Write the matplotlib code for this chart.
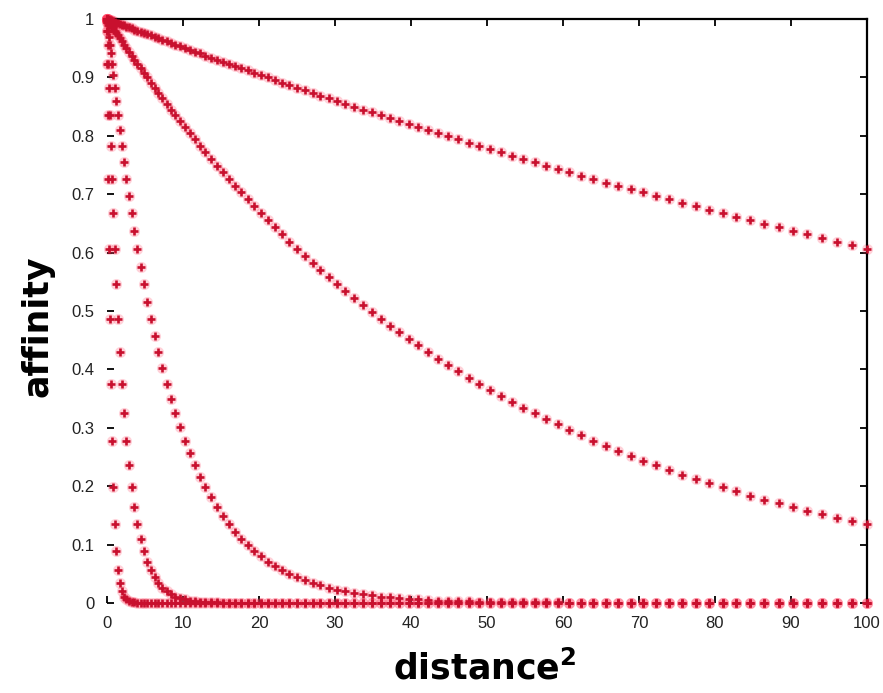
import matplotlib
matplotlib.use("Agg")
import matplotlib.pyplot as plt

# squared distances (x axis)
dist_sq = [
    0, 0.01, 0.04, 0.09, 0.16, 0.25, 0.36, 0.49, 0.64, 0.81,
    1, 1.21, 1.44, 1.69, 1.96, 2.25, 2.56, 2.89, 3.24, 3.61,
    4, 4.41, 4.84, 5.29, 5.76, 6.25, 6.76, 7.29, 7.84, 8.41,
    9, 9.61, 10.24, 10.89, 11.56, 12.25, 12.96, 13.69, 14.44, 15.21,
    16, 16.81, 17.64, 18.49, 19.36, 20.25, 21.16, 22.09, 23.04, 24.01,
    25, 26.01, 27.04, 28.09, 29.16, 30.25, 31.36, 32.49, 33.64, 34.81,
    36, 37.21, 38.44, 39.69, 40.96, 42.25, 43.56, 44.89, 46.24, 47.61,
    49, 50.41, 51.84, 53.29, 54.76, 56.25, 57.76, 59.29, 60.84, 62.41,
    64, 65.61, 67.24, 68.89, 70.56, 72.25, 73.96, 75.69, 77.44, 79.21,
    81, 82.81, 84.64, 86.49, 88.36, 90.25, 92.16, 94.09, 96.04, 98.01,
    100,
]

aff_sigma10 = [
    1.000, 1.000, 1.000, 1.000, 0.999, 0.999, 0.998, 0.998, 0.997, 0.996,
    0.995, 0.994, 0.993, 0.992, 0.990, 0.989, 0.987, 0.986, 0.984, 0.982,
    0.980, 0.978, 0.976, 0.974, 0.972, 0.969, 0.967, 0.964, 0.962, 0.959,
    0.956, 0.953, 0.950, 0.947, 0.944, 0.941, 0.937, 0.934, 0.930, 0.927,
    0.923, 0.919, 0.916, 0.912, 0.908, 0.904, 0.900, 0.895, 0.891, 0.887,
    0.882, 0.878, 0.874, 0.869, 0.864, 0.860, 0.855, 0.850, 0.845, 0.840,
    0.835, 0.830, 0.825, 0.820, 0.815, 0.810, 0.804, 0.799, 0.794, 0.788,
    0.783, 0.777, 0.772, 0.766, 0.760, 0.755, 0.749, 0.743, 0.738, 0.732,
    0.726, 0.720, 0.714, 0.709, 0.703, 0.697, 0.691, 0.685, 0.679, 0.673,
    0.667, 0.661, 0.655, 0.649, 0.643, 0.637, 0.631, 0.625, 0.619, 0.613,
    0.607,
]

aff_sigma5 = [
    1.000, 1.000, 0.999, 0.998, 0.997, 0.995, 0.993, 0.990, 0.987, 0.984,
    0.980, 0.976, 0.972, 0.967, 0.962, 0.956, 0.950, 0.944, 0.937, 0.930,
    0.923, 0.916, 0.908, 0.900, 0.891, 0.882, 0.874, 0.864, 0.855, 0.845,
    0.835, 0.825, 0.815, 0.804, 0.794, 0.783, 0.772, 0.760, 0.749, 0.738,
    0.726, 0.714, 0.703, 0.691, 0.679, 0.667, 0.655, 0.643, 0.631, 0.619,
    0.607, 0.594, 0.582, 0.570, 0.558, 0.546, 0.534, 0.522, 0.510, 0.498,
    0.487, 0.475, 0.464, 0.452, 0.441, 0.430, 0.418, 0.407, 0.397, 0.386,
    0.375, 0.365, 0.355, 0.344, 0.334, 0.325, 0.315, 0.306, 0.296, 0.287,
    0.278, 0.269, 0.261, 0.252, 0.244, 0.236, 0.228, 0.220, 0.213, 0.205,
    0.198, 0.191, 0.184, 0.177, 0.171, 0.164, 0.158, 0.152, 0.146, 0.141,
    0.135,
]

aff_sigma2 = [
    1.000, 0.999, 0.995, 0.989, 0.980, 0.969, 0.956, 0.941, 0.923, 0.904,
    0.882, 0.860, 0.835, 0.810, 0.783, 0.755, 0.726, 0.697, 0.667, 0.637,
    0.607, 0.576, 0.546, 0.516, 0.487, 0.458, 0.430, 0.402, 0.375, 0.350,
    0.325, 0.301, 0.278, 0.256, 0.236, 0.216, 0.198, 0.181, 0.164, 0.149,
    0.135, 0.122, 0.110, 0.099, 0.089, 0.080, 0.071, 0.063, 0.056, 0.050,
    0.044, 0.039, 0.034, 0.030, 0.026, 0.023, 0.020, 0.017, 0.015, 0.013,
    0.011, 0.010, 0.008, 0.007, 0.006, 0.005, 0.004, 0.004, 0.003, 0.003,
    0.002, 0.002, 0.002, 0.001, 0.001, 0.001, 0.001, 0.001, 0.000, 0.000,
    0.000, 0.000, 0.000, 0.000, 0.000, 0.000, 0.000, 0.000, 0.000, 0.000,
    0.000, 0.000, 0.000, 0.000, 0.000, 0.000, 0.000, 0.000, 0.000, 0.000,
    0.000,
]

aff_sigma1 = [
    1.000, 0.995, 0.980, 0.956, 0.923, 0.882, 0.835, 0.783, 0.726, 0.667,
    0.607, 0.546, 0.487, 0.430, 0.375, 0.325, 0.278, 0.236, 0.198, 0.164,
    0.135, 0.110, 0.089, 0.071, 0.056, 0.044, 0.034, 0.026, 0.020, 0.015,
    0.011, 0.008, 0.006, 0.004, 0.003, 0.002, 0.002, 0.001, 0.001, 0.000,
    0.000, 0.000, 0.000, 0.000, 0.000, 0.000, 0.000, 0.000, 0.000, 0.000,
    0.000, 0.000, 0.000, 0.000, 0.000, 0.000, 0.000, 0.000, 0.000, 0.000,
    0.000, 0.000, 0.000, 0.000, 0.000, 0.000, 0.000, 0.000, 0.000, 0.000,
    0.000, 0.000, 0.000, 0.000, 0.000, 0.000, 0.000, 0.000, 0.000, 0.000,
    0.000, 0.000, 0.000, 0.000, 0.000, 0.000, 0.000, 0.000, 0.000, 0.000,
    0.000, 0.000, 0.000, 0.000, 0.000, 0.000, 0.000, 0.000, 0.000, 0.000,
    0.000,
]

aff_sigma05 = [
    1.000, 0.980, 0.923, 0.835, 0.726, 0.607, 0.487, 0.375, 0.278, 0.198,
    0.135, 0.089, 0.056, 0.034, 0.020, 0.011, 0.006, 0.003, 0.002, 0.001,
    0.000, 0.000, 0.000, 0.000, 0.000, 0.000, 0.000, 0.000, 0.000, 0.000,
    0.000, 0.000, 0.000, 0.000, 0.000, 0.000, 0.000, 0.000, 0.000, 0.000,
    0.000, 0.000, 0.000, 0.000, 0.000, 0.000, 0.000, 0.000, 0.000, 0.000,
    0.000, 0.000, 0.000, 0.000, 0.000, 0.000, 0.000, 0.000, 0.000, 0.000,
    0.000, 0.000, 0.000, 0.000, 0.000, 0.000, 0.000, 0.000, 0.000, 0.000,
    0.000, 0.000, 0.000, 0.000, 0.000, 0.000, 0.000, 0.000, 0.000, 0.000,
    0.000, 0.000, 0.000, 0.000, 0.000, 0.000, 0.000, 0.000, 0.000, 0.000,
    0.000, 0.000, 0.000, 0.000, 0.000, 0.000, 0.000, 0.000, 0.000, 0.000,
    0.000,
]

x_ticks = [0, 10, 20, 30, 40, 50, 60, 70, 80, 90, 100]
x_tick_labels = ["0", "10", "20", "30", "40", "50", "60", "70", "80", "90", "100"]
y_ticks = [0, 0.1, 0.2, 0.3, 0.4, 0.5, 0.6, 0.7, 0.8, 0.9, 1.0]
y_tick_labels = ["0", "0.1", "0.2", "0.3", "0.4", "0.5", "0.6", "0.7", "0.8", "0.9", "1"]

W, H = 883, 693
fig = plt.figure(figsize=(W / 100, H / 100), dpi=100)
ax = fig.add_axes([107 / W, 1 - 603 / H, 760 / W, 584 / H])

series = [aff_sigma05, aff_sigma1, aff_sigma2, aff_sigma5, aff_sigma10]
for ys in series:
    ax.plot(dist_sq, ys, linestyle="none", marker="o", ms=8,
            color="#ff3355", alpha=0.22, mew=0, clip_on=False, zorder=2)
    ax.plot(dist_sq, ys, linestyle="none", marker="+", ms=6, mew=1.9,
            color="#c8102e", clip_on=False, zorder=3)

ax.set_xlim(0, 100)
ax.set_ylim(0, 1)
ax.set_xticks(x_ticks)
ax.set_xticklabels(x_tick_labels)
ax.set_yticks(y_ticks)
ax.set_yticklabels(y_tick_labels)
ax.tick_params(direction="in", length=5, width=1.3, top=True, right=True,
               labelsize=12, pad=9, colors="black")
for lab in ax.get_xticklabels() + ax.get_yticklabels():
    lab.set_family(["Liberation Sans", "DejaVu Sans"])
    lab.set_color("#222222")
ax.spines["left"].set_visible(False)
ax.spines["bottom"].set_visible(False)
ax.spines["top"].set_linewidth(1.6)
ax.spines["right"].set_linewidth(1.6)

fig.text(485 / W, 1 - 668 / H, r"distance$^{\mathbf{2}}$", fontsize=25,
         fontweight="bold", ha="center", va="center")
fig.text(38 / W, 1 - 326 / H, "affinity", fontsize=25, fontweight="bold",
         rotation=90, ha="center", va="center")

fig.savefig("out.png", dpi=100)
